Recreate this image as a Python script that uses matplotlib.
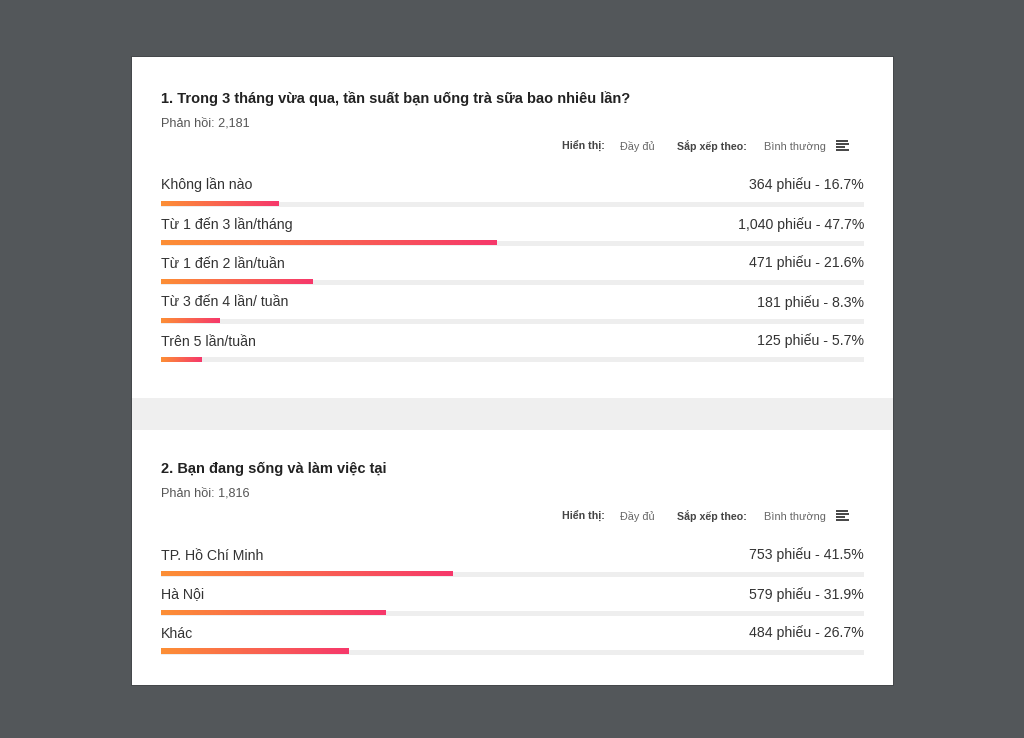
import numpy as np
from matplotlib import pyplot as plt
from matplotlib.patches import Rectangle
from matplotlib.colors import LinearSegmentedColormap

plt.rcParams['font.family'] = ['Liberation Sans', 'DejaVu Sans']

q1_title = '1. Trong 3 tháng vừa qua, tần suất bạn uống trà sữa bao nhiêu lần?'
q1_total = '2,181'
q1_labels = ['Không lần nào', 'Từ 1 đến 3 lần/tháng', 'Từ 1 đến 2 lần/tuần',
             'Từ 3 đến 4 lần/ tuần', 'Trên 5 lần/tuần']
q1_votes = [364, 1040, 471, 181, 125]
q1_pct = [16.7, 47.7, 21.6, 8.3, 5.7]

q2_title = '2. Bạn đang sống và làm việc tại'
q2_total = '1,816'
q2_labels = ['TP. Hồ Chí Minh', 'Hà Nội', 'Khác']
q2_votes = [753, 579, 484]
q2_pct = [41.5, 31.9, 26.7]

W, H = 1024, 738
ROW = 39
grad_cmap = LinearSegmentedColormap.from_list('bar', ['#fd8f35', '#f6386b'])
grad = np.linspace(0, 1, 256).reshape(1, -1)

fig = plt.figure(figsize=(W / 100, H / 100), dpi=100)
fig.patch.set_facecolor('#53575a')

bg = fig.add_axes([0, 0, 1, 1])
bg.set_xlim(0, W)
bg.set_ylim(H, 0)
bg.axis('off')

# card + divider band
bg.add_patch(Rectangle((131, 56), 763, 630, fc='#45484b', ec='none'))
bg.add_patch(Rectangle((132, 57), 761, 628, fc='white', ec='none'))
bg.add_patch(Rectangle((132, 398), 761, 32, fc='#efefef', ec='none'))


def draw_section(top, title, total, labels, votes, pct):
    bg.text(161, top + 5.5, title, fontsize=10.5, fontweight='bold', color='#222222',
            va='baseline', ha='left')
    bg.text(161, top + 30, 'Phản hồi: ' + total, fontsize=9.1, color='#555555',
            va='baseline', ha='left')
    hy = top + 48.5
    bg.text(562, hy + 4, 'Hiển thị:', fontsize=7.7, fontweight='bold', color='#444444', va='baseline')
    bg.text(620, hy + 4, 'Đầy đủ', fontsize=7.8, color='#666666', va='baseline')
    bg.text(677, hy + 4, 'Sắp xếp theo:', fontsize=7.7, fontweight='bold', color='#444444', va='baseline')
    bg.text(764, hy + 4, 'Bình thường', fontsize=7.95, color='#666666', va='baseline')
    # sort icon
    for k, x1 in enumerate([848, 849, 845, 849]):
        bg.plot([836, x1], [hy - 4.5 + k * 3, hy - 4.5 + k * 3], color='#444444', lw=1.4,
                solid_capstyle='butt')

    n = len(labels)
    ax_top = top + 87.5 - 14
    ax = fig.add_axes([161 / W, 1 - (ax_top + n * ROW) / H, 703 / W, n * ROW / H])
    bh = 5 / ROW
    for i in range(n):
        ly = i + 19 / ROW
        by = i + 33.5 / ROW
        ax.text(0, ly, labels[i], fontsize=10.2, color='#333333', va='baseline', ha='left')
        ax.text(100, ly, f'{votes[i]:,} phiếu - {pct[i]}%', fontsize=10.2, color='#333333',
                va='baseline', ha='right')
        ax.barh(by, 100, height=bh, color='#eeeeee', left=0)
        ax.imshow(grad, cmap=grad_cmap, aspect='auto',
                  extent=(0, pct[i], by + bh / 2, by - bh / 2), zorder=3)
    ax.set_xlim(0, 100)
    ax.set_ylim(n, 0)
    ax.axis('off')


draw_section(97, q1_title, q1_total, q1_labels, q1_votes, q1_pct)
draw_section(467, q2_title, q2_total, q2_labels, q2_votes, q2_pct)

fig.savefig('out.png', dpi=100, facecolor=fig.get_facecolor())
